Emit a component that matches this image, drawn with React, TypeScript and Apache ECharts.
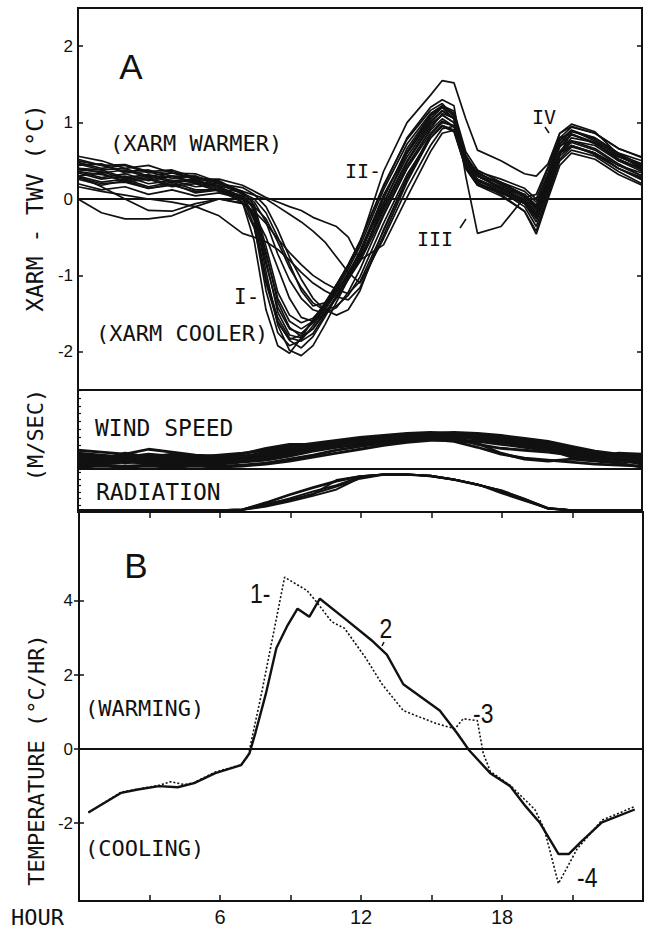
import React, { useEffect, useRef } from "react";
import * as echarts from "echarts";

// ---------- Panel A: XARM - TWV (°C) vs hour ----------
const HOURS_A = [0, 1, 2, 3, 4, 5, 6, 7, 7.5, 8, 8.5, 9, 9.5, 10, 10.5, 11, 11.5, 12, 13, 14, 15, 15.5, 16, 16.5, 17, 18, 19, 19.5, 20, 20.5, 21, 22, 23, 24];

const XARM_A1 = [0.52, 0.44, 0.45, 0.36, 0.38, 0.28, 0.24, 0.08, -0.15, -0.95, -1.65, -1.98, -2.05, -1.92, -1.65, -1.35, -1.05, -0.75, 0.05, 0.62, 1.08, 1.22, 1.15, 0.62, 0.38, 0.22, 0.05, -0.12, 0.22, 0.72, 0.85, 0.72, 0.55, 0.44];
const XARM_A2 = [0.44, 0.46, 0.34, 0.36, 0.27, 0.30, 0.16, 0.02, -0.35, -1.2, -1.75, -1.92, -1.85, -1.66, -1.42, -1.18, -0.92, -0.62, 0.12, 0.72, 1.12, 1.22, 1.12, 0.58, 0.30, 0.14, -0.02, -0.22, 0.18, 0.62, 0.80, 0.74, 0.50, 0.36];
const XARM_A3 = [0.36, 0.28, 0.33, 0.24, 0.30, 0.20, 0.18, -0.04, -0.55, -1.45, -1.92, -2.02, -1.82, -1.58, -1.36, -1.12, -0.86, -0.55, 0.18, 0.78, 1.16, 1.25, 1.08, 0.50, 0.24, 0.10, -0.06, -0.30, 0.12, 0.58, 0.88, 0.80, 0.60, 0.50];
const XARM_A4 = [0.30, 0.34, 0.22, 0.26, 0.16, 0.20, 0.10, 0.00, -0.22, -0.85, -1.42, -1.70, -1.76, -1.62, -1.42, -1.22, -0.96, -0.70, -0.05, 0.55, 1.00, 1.15, 1.05, 0.48, 0.30, 0.20, 0.05, -0.15, 0.28, 0.70, 0.76, 0.66, 0.46, 0.30];
const XARM_A5 = [0.26, 0.18, 0.24, 0.14, 0.20, 0.08, 0.12, -0.05, -0.38, -1.05, -1.55, -1.82, -1.86, -1.76, -1.52, -1.26, -1.02, -0.80, -0.12, 0.48, 0.95, 1.10, 1.00, 0.42, 0.20, 0.10, -0.10, -0.36, 0.08, 0.52, 0.68, 0.60, 0.40, 0.26];
const XARM_A6 = [0.56, 0.50, 0.40, 0.44, 0.34, 0.33, 0.22, 0.10, -0.08, -0.62, -1.22, -1.52, -1.62, -1.56, -1.40, -1.20, -1.00, -0.76, -0.16, 0.44, 0.90, 1.05, 0.95, 0.52, 0.32, 0.22, 0.10, -0.04, 0.34, 0.80, 0.94, 0.86, 0.66, 0.55];
const XARM_A7 = [0.48, 0.40, 0.44, 0.34, 0.36, 0.26, 0.22, 0.06, -0.25, -1.05, -1.60, -1.85, -1.95, -1.80, -1.55, -1.28, -1.02, -0.72, 0.00, 0.66, 1.10, 1.20, 1.10, 0.56, 0.35, 0.18, 0.02, -0.18, 0.25, 0.76, 0.90, 0.78, 0.58, 0.46];
const XARM_A8 = [0.40, 0.38, 0.28, 0.32, 0.24, 0.26, 0.14, 0.04, -0.10, -0.70, -1.35, -1.68, -1.80, -1.70, -1.50, -1.28, -1.05, -0.82, -0.20, 0.40, 0.92, 1.12, 1.06, 0.46, 0.26, 0.12, -0.04, -0.26, 0.14, 0.60, 0.74, 0.64, 0.44, 0.34];
const XARM_M1 = [0.40, 0.34, 0.38, 0.28, 0.30, 0.22, 0.20, 0.08, -0.04, -0.30, -0.72, -1.06, -1.30, -1.45, -1.50, -1.42, -1.22, -0.92, -0.22, 0.40, 0.86, 1.02, 0.95, 0.46, 0.24, 0.14, 0.00, -0.20, 0.20, 0.62, 0.76, 0.70, 0.50, 0.40];
const XARM_M2 = [0.20, 0.12, 0.16, 0.06, 0.12, 0.04, 0.08, 0.00, -0.10, -0.26, -0.56, -0.90, -1.16, -1.36, -1.46, -1.40, -1.26, -1.02, -0.32, 0.32, 0.80, 0.96, 0.90, 0.40, 0.18, 0.04, -0.16, -0.42, 0.04, 0.50, 0.64, 0.56, 0.36, 0.20];
const XARM_M3 = [0.50, 0.44, 0.36, 0.38, 0.30, 0.30, 0.20, 0.15, 0.06, -0.10, -0.40, -0.76, -1.05, -1.30, -1.45, -1.52, -1.45, -1.20, -0.40, 0.28, 0.84, 1.00, 0.96, 0.50, 0.30, 0.16, 0.06, -0.08, 0.30, 0.72, 0.90, 0.76, 0.56, 0.42];
const XARM_M4 = [0.34, 0.26, 0.30, 0.20, 0.24, 0.16, 0.18, 0.08, 0.00, -0.18, -0.50, -0.85, -1.20, -1.40, -1.36, -1.20, -1.00, -0.80, -0.10, 0.50, 0.98, 1.10, 1.00, 0.54, 0.34, 0.20, 0.06, -0.12, 0.26, 0.68, 0.84, 0.74, 0.52, 0.38];
const XARM_L1 = [0.16, 0.10, 0.05, 0.00, -0.04, -0.10, -0.22, -0.45, -0.50, -0.56, -0.66, -0.80, -0.96, -1.10, -1.20, -1.28, -1.32, -1.16, -0.48, 0.22, 0.80, 0.96, 0.90, 0.42, 0.20, 0.08, -0.06, -0.24, 0.16, 0.56, 0.70, 0.60, 0.44, 0.30];
const XARM_L2 = [0.30, 0.16, 0.00, -0.15, -0.16, -0.06, 0.00, -0.06, -0.16, -0.32, -0.52, -0.70, -0.86, -1.00, -1.10, -1.18, -1.24, -1.08, -0.42, 0.26, 0.80, 0.95, 0.88, 0.40, 0.18, 0.08, -0.06, -0.20, 0.20, 0.60, 0.70, 0.58, 0.40, 0.28];
const XARM_LL1 = [0.36, 0.32, 0.24, 0.28, 0.18, 0.22, 0.12, 0.10, 0.05, 0.00, -0.10, -0.20, -0.30, -0.42, -0.56, -0.76, -0.96, -1.10, -0.52, 0.14, 0.70, 0.92, 0.95, 0.52, 0.30, 0.14, 0.04, -0.10, 0.30, 0.76, 0.90, 0.80, 0.60, 0.44];
const XARM_LL2 = [0.46, 0.38, 0.40, 0.30, 0.34, 0.26, 0.26, 0.18, 0.10, 0.02, -0.04, -0.10, -0.15, -0.24, -0.30, -0.36, -0.50, -0.80, -0.60, 0.02, 0.62, 0.86, 0.90, 0.50, 0.36, 0.26, 0.14, 0.00, 0.40, 0.86, 0.95, 0.86, 0.66, 0.54];
const XARM_O1 = [0.30, 0.22, 0.26, 0.16, 0.22, 0.12, 0.12, 0.00, -0.20, -0.72, -1.30, -1.60, -1.70, -1.60, -1.40, -1.15, -0.88, -0.58, 0.36, 1.00, 1.36, 1.55, 1.52, 1.05, 0.64, 0.50, 0.33, 0.30, 0.46, 0.86, 0.98, 0.88, 0.58, 0.40];
const XARM_O2 = [0.38, 0.36, 0.26, 0.30, 0.22, 0.24, 0.14, 0.04, -0.28, -1.10, -1.62, -1.84, -1.78, -1.60, -1.38, -1.12, -0.86, -0.56, 0.16, 0.80, 1.20, 1.30, 1.22, 0.30, -0.45, -0.36, 0.02, 0.06, 0.42, 0.80, 0.85, 0.74, 0.52, 0.40];
const XARM_O3 = [0.00, -0.18, -0.26, -0.26, -0.22, -0.10, 0.00, -0.05, -0.20, -0.50, -0.90, -1.30, -1.55, -1.60, -1.50, -1.30, -1.05, -0.80, -0.06, 0.60, 1.05, 1.20, 1.05, 0.50, 0.30, 0.15, -0.05, -0.25, 0.20, 0.60, 0.70, 0.60, 0.40, 0.25];
const XARM_O4 = [0.28, 0.20, 0.22, 0.14, 0.18, 0.10, 0.12, 0.02, -0.12, -0.80, -1.48, -1.78, -1.82, -1.70, -1.46, -1.22, -0.98, -0.68, 0.04, 0.60, 1.02, 1.16, 1.06, 0.44, 0.22, 0.06, -0.16, -0.46, 0.00, 0.44, 0.60, 0.52, 0.32, 0.18];

const XARM_SERIES = [XARM_A1, XARM_A2, XARM_A3, XARM_A4, XARM_A5, XARM_A6, XARM_A7, XARM_A8, XARM_M1, XARM_M2, XARM_M3, XARM_M4, XARM_L1, XARM_L2, XARM_LL1, XARM_LL2, XARM_O1, XARM_O2, XARM_O3, XARM_O4];

// ---------- Wind speed and radiation (hourly) ----------
const HOURS_H = [0, 1, 2, 3, 4, 5, 6, 7, 8, 9, 10, 11, 12, 13, 14, 15, 16, 17, 18, 19, 20, 21, 22, 23, 24];

const WIND_1 = [1.6, 1.4, 1.2, 1.5, 1.3, 1.1, 1.2, 1.3, 1.6, 2.0, 2.4, 2.8, 3.1, 3.3, 3.5, 3.6, 3.6, 3.5, 3.3, 3.0, 2.6, 2.1, 1.7, 1.4, 1.1];
const WIND_2 = [1.0, 0.9, 1.1, 0.8, 0.9, 0.8, 0.9, 1.0, 1.3, 1.7, 2.1, 2.5, 2.8, 3.0, 3.2, 3.3, 3.4, 3.2, 2.8, 2.3, 1.9, 1.5, 1.2, 0.9, 0.7];
const WIND_3 = [0.6, 0.5, 0.7, 0.6, 0.5, 0.6, 0.5, 0.7, 0.9, 1.3, 1.8, 2.2, 2.5, 2.8, 3.0, 3.1, 3.0, 2.8, 2.5, 2.2, 1.9, 1.6, 1.3, 1.0, 0.5];
const WIND_4 = [1.9, 1.7, 1.5, 2.0, 1.7, 1.4, 1.3, 1.5, 2.1, 2.5, 2.5, 2.7, 3.0, 3.3, 3.5, 3.6, 3.7, 3.6, 3.4, 3.1, 2.8, 2.3, 1.8, 1.5, 1.3];
const WIND_5 = [0.4, 0.4, 0.3, 0.4, 0.3, 0.4, 0.3, 0.4, 0.6, 1.0, 1.4, 1.9, 2.3, 2.6, 2.9, 3.0, 2.8, 2.2, 1.5, 1.1, 0.9, 0.7, 0.5, 0.4, 0.3];
const WIND_6 = [1.2, 1.1, 1.0, 1.3, 1.0, 0.9, 1.0, 1.1, 1.4, 1.8, 2.2, 2.5, 2.7, 3.1, 3.3, 3.4, 3.2, 2.5, 2.1, 1.9, 1.7, 1.4, 1.2, 1.6, 1.5];
const WIND_7 = [0.8, 0.7, 0.8, 0.7, 0.8, 0.7, 0.8, 0.8, 1.1, 1.5, 1.9, 2.3, 2.6, 2.9, 3.1, 3.2, 3.3, 3.3, 3.1, 2.7, 2.2, 1.8, 1.4, 1.1, 0.9];
const WIND_8 = [1.4, 1.2, 1.3, 1.1, 1.2, 1.1, 1.0, 1.2, 1.5, 1.9, 2.3, 2.6, 2.9, 3.2, 3.4, 3.5, 3.5, 3.4, 3.2, 2.6, 2.0, 1.7, 1.5, 1.3, 1.0];
const WIND_9 = [0.2, 0.3, 0.2, 0.3, 0.2, 0.3, 0.2, 0.3, 0.5, 0.8, 1.2, 1.6, 2.0, 2.4, 2.7, 2.9, 2.9, 2.6, 1.6, 1.0, 0.8, 1.0, 0.8, 0.6, 0.2];
const WIND_10 = [1.1, 1.0, 0.9, 1.0, 0.9, 1.0, 1.1, 1.2, 1.7, 2.1, 2.4, 2.7, 3.0, 3.2, 3.4, 3.5, 3.5, 3.3, 2.9, 2.5, 2.2, 1.9, 1.5, 1.2, 1.1];
const WIND_11 = [0.9, 1.2, 0.6, 1.0, 0.6, 0.7, 0.6, 0.9, 1.0, 1.5, 2.0, 2.4, 2.7, 3.0, 3.2, 3.4, 3.3, 3.0, 2.6, 2.4, 2.0, 1.2, 1.0, 0.8, 0.6];
const WIND_12 = [1.5, 1.0, 1.6, 1.2, 1.5, 1.2, 1.4, 1.6, 1.9, 2.3, 2.6, 2.9, 3.2, 3.4, 3.6, 3.7, 3.6, 3.4, 3.0, 2.8, 2.4, 2.0, 1.7, 1.2, 0.9];
const WIND_SERIES = [WIND_1, WIND_2, WIND_3, WIND_4, WIND_5, WIND_6, WIND_7, WIND_8, WIND_9, WIND_10, WIND_11, WIND_12];

const RAD_1 = [0, 0, 0, 0, 0, 0, 0, 0.02, 0.20, 0.42, 0.62, 0.80, 0.94, 1.00, 1.00, 0.96, 0.86, 0.72, 0.54, 0.30, 0.05, 0, 0, 0, 0];
const RAD_2 = [0, 0, 0, 0, 0, 0, 0, 0.01, 0.10, 0.24, 0.40, 0.58, 0.90, 1.00, 1.00, 0.96, 0.86, 0.72, 0.52, 0.28, 0.04, 0, 0, 0, 0];
const RAD_3 = [0, 0, 0, 0, 0, 0, 0, 0.01, 0.15, 0.33, 0.52, 0.70, 0.93, 1.00, 0.99, 0.95, 0.85, 0.70, 0.56, 0.32, 0.06, 0, 0, 0, 0];
const RAD_4 = [0, 0, 0, 0, 0, 0, 0, 0.02, 0.18, 0.30, 0.44, 0.84, 0.95, 1.00, 1.00, 0.96, 0.86, 0.72, 0.48, 0.26, 0.05, 0, 0, 0, 0];
const RAD_5 = [0, 0, 0, 0, 0, 0, 0, 0.02, 0.22, 0.44, 0.64, 0.82, 0.95, 1.00, 1.00, 0.95, 0.85, 0.71, 0.54, 0.31, 0.06, 0, 0, 0, 0];
const RAD_6 = [0, 0, 0, 0, 0, 0, 0, 0.01, 0.12, 0.28, 0.46, 0.66, 0.88, 0.99, 1.00, 0.96, 0.86, 0.72, 0.55, 0.30, 0.05, 0, 0, 0, 0];
const RAD_SERIES = [RAD_1, RAD_2, RAD_3, RAD_4, RAD_5, RAD_6];

// ---------- Panel B: temperature change rate (°C/HR) ----------
const B_SOLID_HOURS = [0.4, 1.8, 2.5, 3.4, 4.2, 4.9, 5.8, 6.9, 7.25, 7.5, 7.95, 8.4, 8.85, 9.3, 9.8, 10.25, 11.3, 12.5, 13.1, 13.8, 15.35, 16.1, 16.6, 17.5, 18.35, 19.0, 19.6, 20.4, 20.85, 21.35, 22.25, 23.65];
const B_SOLID_VALUES = [-1.71, -1.18, -1.09, -1.0, -1.03, -0.92, -0.65, -0.43, -0.12, 0.42, 1.49, 2.73, 3.31, 3.79, 3.57, 4.06, 3.53, 2.91, 2.55, 1.75, 1.04, 0.42, -0.03, -0.65, -1.0, -1.54, -1.98, -2.83, -2.83, -2.51, -1.98, -1.63];
const B_DOTTED_HOURS = [0.4, 1.8, 2.5, 3.4, 3.9, 4.5, 4.9, 5.8, 6.9, 7.2, 7.75, 8.75, 9.7, 10.05, 10.75, 11.3, 12.2, 12.9, 13.8, 15.2, 16.0, 16.35, 16.95, 17.2, 17.5, 18.35, 19.4, 19.8, 20.4, 21.2, 22.25, 23.65];
const B_DOTTED_VALUES = [-1.71, -1.16, -1.08, -0.98, -0.88, -0.96, -0.9, -0.62, -0.42, -0.18, 1.45, 4.64, 4.28, 4.02, 3.44, 3.26, 2.46, 1.75, 1.04, 0.69, 0.55, 0.82, 0.77, -0.11, -0.6, -0.98, -1.63, -2.16, -3.63, -2.69, -1.92, -1.55];

const A_TICKS = [-2, -1, 0, 1, 2];
const B_TICKS = [-2, 0, 2, 4];
const HOUR_LABELS = [6, 12, 18];

const INK = "#111";
const MONO = '"DejaVu Sans Mono", monospace';
const SANS = '"Liberation Sans", Arial, sans-serif';

function pairs(xs: number[], ys: number[]) {
  return xs.map((x, i) => [x, ys[i]]);
}

function txt(text: string, x: number, y: number, size: number, opts: any = {}) {
  const align = opts.align || "left";
  return {
    type: "text",
    x,
    y,
    rotation: opts.rotation || 0,
    scaleX: opts.scaleX || 1,
    z: 100,
    style: {
      text,
      fill: INK,
      font: `${opts.weight || "normal"} ${size}px ${opts.family || MONO}`,
      textAlign: align,
      align,
      textVerticalAlign: "middle",
      verticalAlign: "middle",
    },
  };
}

function seg(x1: number, y1: number, x2: number, y2: number) {
  return {
    type: "line",
    z: 100,
    shape: { x1, y1, x2, y2 },
    style: { stroke: INK, lineWidth: 1.5 },
  };
}

export default function App() {
  const ref = useRef<HTMLDivElement>(null);

  useEffect(() => {
    if (!ref.current) return;
    const chart = echarts.init(ref.current, null, { renderer: "svg" });

    const gridBase = { show: true, borderColor: INK, borderWidth: 2, backgroundColor: "transparent", containLabel: false };
    const hiddenX = (gridIndex: number) => ({
      type: "value",
      gridIndex,
      min: 0,
      max: 24,
      axisLine: { show: false, onZero: false },
      axisTick: { show: false },
      axisLabel: { show: false },
      splitLine: { show: false },
    });

    const series: any[] = [];
    XARM_SERIES.forEach((vals, i) => {
      series.push({
        type: "line",
        xAxisIndex: 0,
        yAxisIndex: 0,
        data: pairs(HOURS_A, vals),
        showSymbol: false,
        symbol: "none",
        lineStyle: { color: INK, width: 1.7 },
        silent: true,
        markLine:
          i === 0
            ? {
                silent: true,
                symbol: ["none", "none"],
                label: { show: false },
                lineStyle: { color: INK, width: 2, type: "solid" },
                data: [{ yAxis: 0 }],
              }
            : undefined,
      });
    });
    WIND_SERIES.forEach((vals) => {
      series.push({
        type: "line",
        xAxisIndex: 1,
        yAxisIndex: 2,
        data: pairs(HOURS_H, vals),
        showSymbol: false,
        symbol: "none",
        lineStyle: { color: INK, width: 2.8 },
        silent: true,
      });
    });
    RAD_SERIES.forEach((vals) => {
      series.push({
        type: "line",
        xAxisIndex: 2,
        yAxisIndex: 3,
        data: pairs(HOURS_H, vals),
        showSymbol: false,
        symbol: "none",
        lineStyle: { color: INK, width: 2 },
        silent: true,
      });
    });
    series.push({
      type: "line",
      xAxisIndex: 3,
      yAxisIndex: 4,
      data: pairs(B_DOTTED_HOURS, B_DOTTED_VALUES),
      showSymbol: false,
      symbol: "none",
      lineStyle: { color: INK, width: 1.6, type: [2, 2] },
      silent: true,
    });
    series.push({
      type: "line",
      xAxisIndex: 3,
      yAxisIndex: 4,
      data: pairs(B_SOLID_HOURS, B_SOLID_VALUES),
      showSymbol: false,
      symbol: "none",
      lineStyle: { color: INK, width: 2.4 },
      silent: true,
      markLine: {
        silent: true,
        symbol: ["none", "none"],
        label: { show: false },
        lineStyle: { color: INK, width: 2, type: "solid" },
        data: [{ yAxis: 0 }],
      },
    });

    const option: any = {
      animation: false,
      backgroundColor: "#fff",
      grid: [
        { ...gridBase, left: 78, right: 10, top: 8, height: 382 },
        { ...gridBase, left: 78, right: 10, top: 390, height: 79 },
        { ...gridBase, left: 78, right: 10, top: 469, height: 43 },
        { ...gridBase, left: 79, right: 9, top: 512, height: 389 },
      ],
      xAxis: [
        hiddenX(0),
        hiddenX(1),
        hiddenX(2),
        {
          type: "value",
          gridIndex: 3,
          position: "bottom",
          min: 0,
          max: 24,
          interval: 3,
          axisLine: { show: false, onZero: false },
          axisTick: { show: true, inside: true, length: 6, lineStyle: { color: INK, width: 1.5 } },
          axisLabel: {
            show: true,
            margin: 6,
            color: INK,
            fontSize: 20,
            fontFamily: SANS,
            formatter: (v: number) => (HOUR_LABELS.indexOf(v) >= 0 ? String(v) : ""),
          },
          splitLine: { show: false },
        },
        {
          type: "value",
          gridIndex: 3,
          position: "top",
          min: 0,
          max: 24,
          interval: 3,
          axisLine: { show: false, onZero: false },
          axisTick: { show: true, inside: true, length: 6, lineStyle: { color: INK, width: 1.5 } },
          axisLabel: { show: false },
          splitLine: { show: false },
        },
      ],
      yAxis: [
        {
          type: "value",
          gridIndex: 0,
          position: "left",
          min: -2.5,
          max: 2.5,
          axisLine: { show: false },
          axisTick: { show: true, inside: true, length: 5, customValues: A_TICKS, lineStyle: { color: INK, width: 1.5 } },
          axisLabel: { show: true, margin: 5, color: INK, fontSize: 17, fontFamily: SANS, customValues: A_TICKS },
          splitLine: { show: false },
        },
        {
          type: "value",
          gridIndex: 0,
          position: "right",
          min: -2.5,
          max: 2.5,
          axisLine: { show: false },
          axisTick: { show: true, inside: true, length: 5, customValues: A_TICKS, lineStyle: { color: INK, width: 1.5 } },
          axisLabel: { show: false },
          splitLine: { show: false },
        },
        {
          type: "value",
          gridIndex: 1,
          position: "left",
          min: 0,
          max: 8,
          interval: 0.8,
          axisLine: { show: false },
          axisTick: { show: true, inside: true, length: 3, lineStyle: { color: INK, width: 1.2 } },
          axisLabel: { show: false },
          splitLine: { show: false },
        },
        {
          type: "value",
          gridIndex: 2,
          position: "left",
          min: -0.05,
          max: 1.15,
          axisLine: { show: false },
          axisTick: { show: true, inside: true, length: 3, customValues: [0.15, 0.33, 0.51, 0.69, 0.87, 1.05], lineStyle: { color: INK, width: 1.2 } },
          axisLabel: { show: false },
          splitLine: { show: false },
        },
        {
          type: "value",
          gridIndex: 3,
          position: "left",
          min: -4.1,
          max: 6.4,
          axisLine: { show: false },
          axisTick: { show: true, inside: true, length: 5, customValues: B_TICKS, lineStyle: { color: INK, width: 1.5 } },
          axisLabel: { show: true, margin: 6, color: INK, fontSize: 17, fontFamily: SANS, customValues: B_TICKS },
          splitLine: { show: false },
        },
        {
          type: "value",
          gridIndex: 3,
          position: "right",
          min: -4.1,
          max: 6.4,
          axisLine: { show: false },
          axisTick: { show: true, inside: true, length: 5, customValues: B_TICKS, lineStyle: { color: INK, width: 1.5 } },
          axisLabel: { show: false },
          splitLine: { show: false },
        },
      ],
      series,
      graphic: [
        // axis titles
        txt("XARM - TWV (°C)", 35, 208, 23, { align: "center", rotation: Math.PI / 2 }),
        txt("(M/SEC)", 35, 435, 22, { align: "center", rotation: Math.PI / 2 }),
        txt("TEMPERATURE (°C/HR)", 36, 760, 22, { align: "center", rotation: Math.PI / 2 }),
        txt("HOUR", 11, 917, 22, {}),
        // panel A
        txt("A", 131, 66, 35, { align: "center", family: SANS }),
        txt("(XARM WARMER)", 110, 143, 22, {}),
        txt("(XARM COOLER)", 96, 333, 22, {}),
        txt("I-", 234, 297, 21, {}),
        txt("II-", 345, 171, 20, {}),
        txt("III", 417, 239, 20, {}),
        seg(460, 228, 466, 219),
        txt("IV", 532, 117, 20, {}),
        seg(545, 127, 549, 133),
        // wind / radiation
        txt("WIND SPEED", 95, 428, 23, {}),
        txt("RADIATION", 96, 492, 23, {}),
        // panel B
        txt("B", 136, 565, 35, { align: "center", family: SANS }),
        txt("(WARMING)", 85, 708, 22, {}),
        txt("(COOLING)", 85, 848, 22, {}),
        txt("1-", 250, 593, 27, { family: SANS, scaleX: 0.85 }),
        txt("2", 386, 628, 27, { align: "center", family: SANS, scaleX: 0.85 }),
        seg(384, 642, 382, 646),
        txt("-3", 473, 713, 27, { family: SANS, scaleX: 0.85 }),
        txt("-4", 577, 877, 27, { family: SANS, scaleX: 0.85 }),
      ],
    };

    chart.setOption(option);
    return () => {
      chart.dispose();
    };
  }, []);

  return (
    <div
      ref={ref}
      style={{ position: "fixed", left: 0, top: 0, width: 652, height: 933, background: "#fff" }}
    />
  );
}
